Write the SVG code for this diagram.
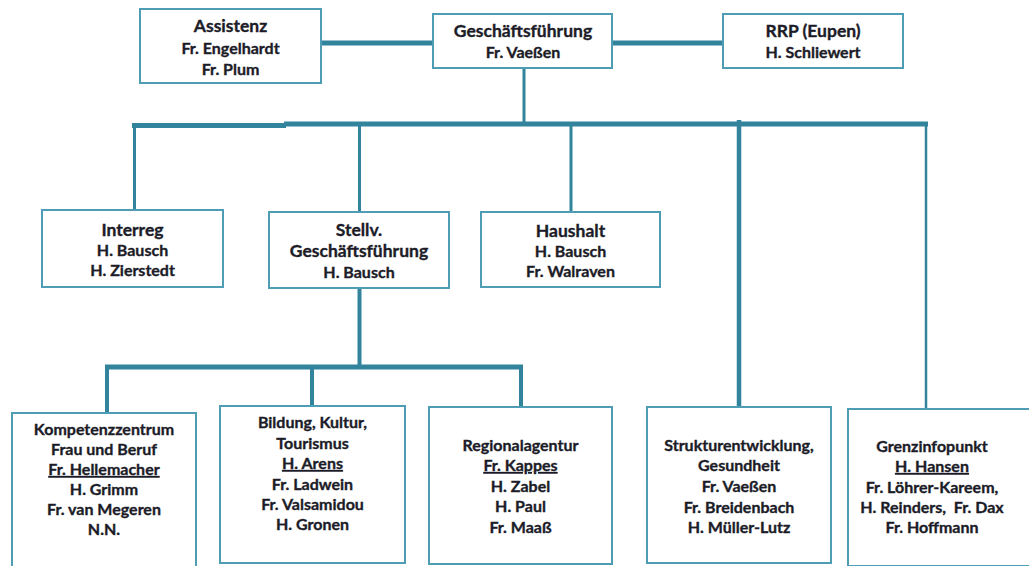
<svg xmlns="http://www.w3.org/2000/svg" width="1029" height="566" viewBox="0 0 1029 566">
<style>
.box{fill:#fff;stroke:#4f9db5;stroke-width:2}
.c{stroke:#31849b;fill:none;stroke-linecap:butt}
text{font-family:Lato,"Liberation Sans",sans-serif;font-weight:700;fill:#1c1c28;stroke:#1c1c28;stroke-width:0.35;text-anchor:middle;font-size:16px}
.t{font-size:17.5px}
.u{text-decoration:underline}
</style>
<rect width="1029" height="566" fill="#fff"/>
<g id="connectors">
<line class="c" x1="321" y1="43" x2="433" y2="43" stroke-width="5"/>
<line class="c" x1="612" y1="43" x2="723" y2="43" stroke-width="5"/>
<line class="c" x1="524" y1="68" x2="524" y2="124" stroke-width="3"/>
<line class="c" x1="284" y1="124" x2="928" y2="124" stroke-width="5"/>
<line class="c" x1="132" y1="125.5" x2="286" y2="125.5" stroke-width="5"/>
<line class="c" x1="134.5" y1="124" x2="134.5" y2="210" stroke-width="3"/>
<line class="c" x1="359.5" y1="124" x2="359.5" y2="212" stroke-width="3"/>
<line class="c" x1="571" y1="124" x2="571" y2="212" stroke-width="3"/>
<line class="c" x1="739" y1="120" x2="739" y2="407" stroke-width="4.5"/>
<line class="c" x1="926" y1="124" x2="926" y2="409" stroke-width="2.5"/>
<line class="c" x1="359.5" y1="288" x2="359.5" y2="367" stroke-width="4"/>
<line class="c" x1="105" y1="367" x2="523" y2="367" stroke-width="5"/>
<line class="c" x1="107" y1="367" x2="107" y2="413" stroke-width="4"/>
<line class="c" x1="312" y1="367" x2="312" y2="406" stroke-width="4"/>
<line class="c" x1="521" y1="367" x2="521" y2="407" stroke-width="4"/>
</g>
<g id="assistenz">
<rect class="box" x="140" y="9" width="181" height="74"/>
<text class="t" x="230.5" y="32">Assistenz</text>
<text x="230.5" y="54">Fr. Engelhardt</text>
<text x="230.5" y="75">Fr. Plum</text>
</g>
<g id="geschaeftsfuehrung">
<rect class="box" x="433" y="14" width="179" height="54"/>
<text class="t" x="523" y="37">Geschäftsführung</text>
<text x="523" y="58">Fr. Vaeßen</text>
</g>
<g id="rrp">
<rect class="box" x="723" y="14" width="180" height="54"/>
<text class="t" x="813" y="37">RRP (Eupen)</text>
<text x="813" y="58">H. Schliewert</text>
</g>
<g id="interreg">
<rect class="box" x="42" y="210" width="181" height="77"/>
<text class="t" x="132.5" y="236">Interreg</text>
<text x="132.5" y="256">H. Bausch</text>
<text x="132.5" y="276">H. Zierstedt</text>
</g>
<g id="stellv">
<rect class="box" x="269" y="212" width="180" height="76"/>
<text class="t" x="359" y="236">Stellv.</text>
<text class="t" x="359" y="257">Geschäftsführung</text>
<text x="359" y="278">H. Bausch</text>
</g>
<g id="haushalt">
<rect class="box" x="481" y="212" width="179" height="75"/>
<text class="t" x="570.5" y="237">Haushalt</text>
<text x="570.5" y="257">H. Bausch</text>
<text x="570.5" y="277">Fr. Walraven</text>
</g>
<g id="kompetenzzentrum">
<rect class="box" x="12" y="413" width="184" height="160"/>
<text x="104" y="435">Kompetenzzentrum</text>
<text x="104" y="455">Frau und Beruf</text>
<text class="u" x="104" y="475">Fr. Hellemacher</text>
<text x="104" y="495">H. Grimm</text>
<text x="104" y="515">Fr. van Megeren</text>
<text x="104" y="535">N.N.</text>
</g>
<g id="bildung">
<rect class="box" x="220" y="406" width="185" height="157"/>
<text x="312.5" y="428">Bildung, Kultur,</text>
<text x="312.5" y="449">Tourismus</text>
<text class="u" x="312.5" y="469">H. Arens</text>
<text x="312.5" y="490">Fr. Ladwein</text>
<text x="312.5" y="510">Fr. Valsamidou</text>
<text x="312.5" y="530">H. Gronen</text>
</g>
<g id="regionalagentur">
<rect class="box" x="429" y="407" width="183" height="157"/>
<text x="520.5" y="451">Regionalagentur</text>
<text class="u" x="520.5" y="471">Fr. Kappes</text>
<text x="520.5" y="492">H. Zabel</text>
<text x="520.5" y="512">H. Paul</text>
<text x="520.5" y="533">Fr. Maaß</text>
</g>
<g id="strukturentwicklung">
<rect class="box" x="647" y="407" width="184" height="156"/>
<text x="739" y="451">Strukturentwicklung,</text>
<text x="739" y="471">Gesundheit</text>
<text x="739" y="492">Fr. Vaeßen</text>
<text x="739" y="513">Fr. Breidenbach</text>
<text x="739" y="533">H. Müller-Lutz</text>
</g>
<g id="grenzinfopunkt">
<rect class="box" x="848" y="409" width="190" height="157"/>
<text x="932" y="452">Grenzinfopunkt</text>
<text class="u" x="932" y="472">H. Hansen</text>
<text x="932" y="493">Fr. Löhrer-Kareem,</text>
<text x="932" y="513" xml:space="preserve">H. Reinders,  Fr. Dax</text>
<text x="932" y="533">Fr. Hoffmann</text>
</g>
</svg>
